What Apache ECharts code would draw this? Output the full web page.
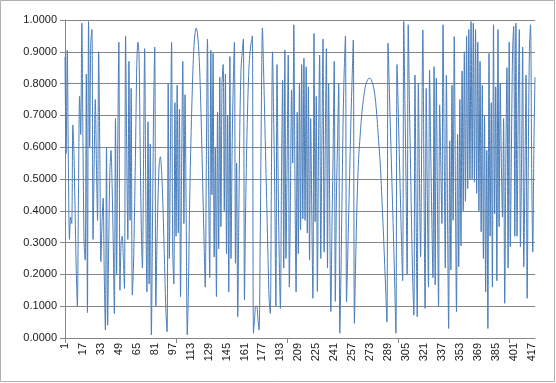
<!DOCTYPE html>
<html><head><meta charset="utf-8">
<script src="https://cdn.jsdelivr.net/npm/echarts@6/dist/echarts.min.js"></script>
<style>html,body{margin:0;padding:0;background:#fff}#c{width:556px;height:383px}</style>
</head><body><div id="c"></div>
<script>
// values, in order, by stretches of the x axis
const seg01 = [0.885,0.58,0.905,0.55,0.31,0.38,0.36,0.67,0.58,0.40,0.22,0.10,0.45,0.76,0.64,0.99,0.62,0.30,0.245,0.83,0.08,0.995,0.60,0.93,0.97,0.31,0.55,0.75,0.55,0.37,0.90];
const seg02 = [0.60,0.24,0.36,0.44,0.20,0.025,0.60,0.04,0.30,0.52,0.59,0.48,0.30,0.077,0.69,0.20,0.60,0.93,0.15,0.30,0.32,0.25,0.156,0.95,0.60,0.31,0.87,0.37,0.785,0.135,0.22,0.40,0.62,0.86,0.93,0.89];
const seg03 = [0.60,0.35,0.22,0.55,0.91,0.45,0.145,0.68,0.17,0.61,0.01,0.35,0.72,0.915,0.10,0.30,0.45,0.55,0.57,0.53,0.45,0.33,0.20,0.08,0.02,0.80,0.25,0.60,0.93,0.28,0.17,0.74,0.32,0.795,0.33,0.72];
const seg04 = [0.13,0.55,0.87,0.36,0.765,0.40,0.01,0.15,0.40,0.58,0.72,0.84,0.92,0.96,0.975,0.96,0.92,0.85,0.74,0.60,0.45,0.30,0.16,0.55,0.94,0.50,0.19,0.905,0.45,0.895,0.255,0.60,0.13,0.71,0.28];
const seg05 = [0.82,0.35,0.80,0.86,0.40,0.83,0.265,0.70,0.145,0.885,0.25,0.60,0.80,0.93,0.235,0.55,0.067,0.40,0.70,0.85,0.90,0.94,0.12,0.40,0.60,0.75,0.85,0.90,0.93,0.95,0.015,0.06,0.10,0.10,0.06,0.025];
const seg06 = [0.30,0.70,0.975,0.85,0.70,0.55,0.40,0.25,0.12,0.077,0.50,0.90,0.70,0.45,0.10,0.86,0.50,0.25,0.093,0.50,0.81,0.22,0.905,0.25,0.55,0.89,0.16,0.45,0.78,0.55,0.985,0.50,0.145,0.71,0.265,0.80];
const seg07 = [0.34,0.86,0.375,0.88,0.37,0.853,0.33,0.79,0.245,0.69,0.40,0.125,0.958,0.366,0.76,0.146,0.60,0.89,0.25,0.60,0.94,0.27,0.60,0.91,0.22,0.80,0.40,0.083,0.35,0.58,0.87,0.115,0.45,0.62,0.80,0.015];
const seg08 = [0.20,0.45,0.70,0.85,0.95,0.114,0.25,0.40,0.55,0.70,0.82,0.937,0.046,0.22,0.38,0.50,0.58,0.63,0.68,0.72,0.75,0.775,0.795,0.806,0.813,0.817,0.817,0.812,0.803,0.79,0.77,0.74,0.70,0.65,0.60,0.55];
const seg09 = [0.48,0.40,0.32,0.23,0.14,0.05,0.927,0.80,0.67,0.55,0.42,0.30,0.16,0.015,0.86,0.73,0.58,0.44,0.30,0.18,0.995,0.75,0.50,0.20,0.985,0.75,0.55,0.35,0.18,0.072,0.827,0.40,0.067,0.80,0.50];
const seg10 = [0.255,0.62,0.969,0.50,0.093,0.785,0.45,0.16,0.843,0.60,0.38,0.19,0.853,0.167,0.817,0.45,0.099,0.733,0.55,0.36,0.985,0.60,0.22,0.827,0.40,0.03,0.62,0.214,0.795,0.37,0.948,0.50,0.083,0.64,0.224,0.75];
const seg11 = [0.29,0.84,0.40,0.90,0.43,0.95,0.47,0.97,0.50,0.995,0.50,0.99,0.49,0.97,0.455,0.93,0.40,0.87,0.334,0.795,0.25,0.70,0.145,0.59,0.03,0.895,0.32,0.74,0.16,0.985,0.39,0.79,0.18,0.97,0.35,0.80];
const seg12 = [0.55,0.38,0.69,0.109,0.55,0.85,0.22,0.93,0.287,0.60,0.90,0.98,0.32,0.99,0.32,0.70,0.97,0.287,0.55,0.915,0.224,0.50,0.827,0.125,0.55,0.90,0.985,0.55,0.27,0.60,0.82];

const values = [].concat(seg01,seg02,seg03,seg04,seg05,seg06,seg07,seg08,seg09,seg10,seg11,seg12);
const categories = values.map((_, i) => String(i + 1));
const xLabelStep = 16;
const xTickStep = 99;
const yMin = 0, yMax = 1, yStep = 0.1;

const chart = echarts.init(document.getElementById('c'), null, {renderer: 'canvas'});
const gray = '#868686';
chart.setOption({
  animation: false,
  backgroundColor: '#ffffff',
  grid: {left: 65, right: 21, top: 20, bottom: 45, containLabel: false},
  xAxis: {
    type: 'category',
    data: categories,
    boundaryGap: false,
    axisLine: {show: true, lineStyle: {color: gray, width: 1}},
    axisTick: {show: true, length: 5, lineStyle: {color: gray}, interval: (i) => i % xTickStep === 0},
    axisLabel: {show: true, rotate: 90, interval: (i) => i % xLabelStep === 0, margin: 5,
      fontFamily: 'Liberation Sans, Arial, sans-serif', fontSize: 11, color: '#1a1a1a'},
    splitLine: {show: false}
  },
  yAxis: {
    type: 'value',
    min: yMin, max: yMax, interval: yStep,
    axisLine: {show: true, lineStyle: {color: gray, width: 1}},
    axisTick: {show: true, length: 5, lineStyle: {color: gray}},
    axisLabel: {margin: 8, formatter: (v) => v.toFixed(4),
      fontFamily: 'Liberation Sans, Arial, sans-serif', fontSize: 11, color: '#1a1a1a'},
    splitLine: {show: true, lineStyle: {color: gray, width: 1}}
  },
  series: [{
    type: 'line',
    data: values,
    smooth: 0.3,
    symbol: 'none',
    lineStyle: {color: '#4a7ebb', width: 1},
    emphasis: {disabled: true}
  }],
  graphic: [{
    type: 'rect', silent: true,
    shape: {x: 0.5, y: 0.5, width: 554, height: 381},
    style: {fill: null, stroke: '#b0b0b0', lineWidth: 1}
  }]
});
</script></body></html>
